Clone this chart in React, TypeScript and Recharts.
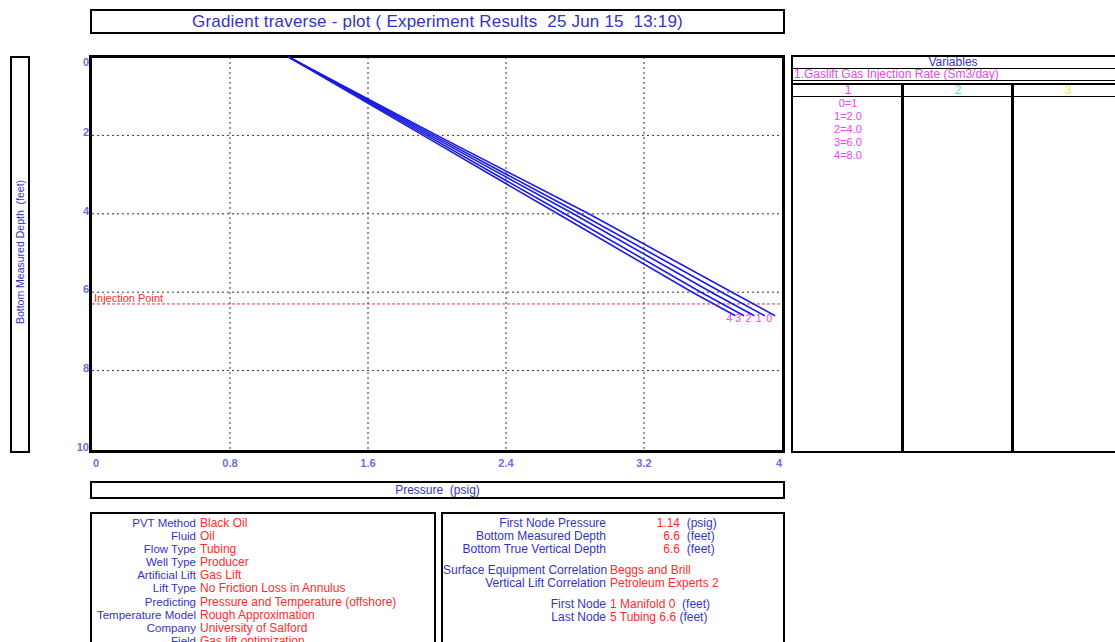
import { LineChart, Line, XAxis, YAxis, CartesianGrid, ReferenceLine, LabelList } from "recharts";

const FONT = '"Liberation Sans", Arial, sans-serif';
const BLUE = "#3434c4";
const RED = "#ff2b2b";
const MAGENTA = "#f044f0";
const TICK = "#6c6ce8";
const LINE = "#1c1ce0";

// depth (feet) vs pressure (psig) for each gas injection rate
const depths = [0, 2, 4, 6, 6.6];
const curveNames = ["0", "1", "2", "3", "4"];
const pressure0 = [1.14, 2.0, 2.88, 3.71, 3.96];
const pressure1 = [1.14, 1.98, 2.83, 3.65, 3.9];
const pressure2 = [1.14, 1.96, 2.79, 3.59, 3.84];
const pressure3 = [1.14, 1.94, 2.74, 3.53, 3.78];
const pressure4 = [1.14, 1.92, 2.7, 3.48, 3.73];
const curvePressures = [pressure0, pressure1, pressure2, pressure3, pressure4];

const xTicks = [0, 0.8, 1.6, 2.4, 3.2, 4];
const yTicks = [0, 2, 4, 6, 8, 10];
const xGrid = [0.8, 1.6, 2.4, 3.2];
const yGrid = [2, 4, 6, 8];
const injectionDepth = 6.3;

const varColumns = ["1", "2", "3"];
const varColumnColors = ["#f044f0", "#55dede", "#eeee55"];
const rateLabels = ["0=1", "1=2.0", "2=4.0", "3=6.0", "4=8.0"];

const wellLabels = ["PVT Method", "Fluid", "Flow Type", "Well Type", "Artificial Lift", "Lift Type", "Predicting", "Temperature Model", "Company", "Field"];
const wellValues = ["Black Oil", "Oil", "Tubing", "Producer", "Gas Lift", "No Friction Loss in Annulus", "Pressure and Temperature (offshore)", "Rough Approximation", "University of Salford", "Gas lift optimization"];

const resultLabels = ["First Node Pressure", "Bottom Measured Depth", "Bottom True Vertical Depth"];
const resultValues = ["1.14", "6.6", "6.6"];
const resultUnits = ["(psig)", "(feet)", "(feet)"];

const corrLabels = ["Surface Equipment Correlation", "Vertical Lift Correlation"];
const corrValues = ["Beggs and Brill", "Petroleum Experts 2"];

const nodeLabels = ["First Node", "Last Node"];
const nodeValues = ["1 Manifold 0 ", "5 Tubing 6.6"];

const curveData = curvePressures.map((ps) => ps.map((p, i) => ({ p, d: depths[i] })));

const XTick = (props: any) => {
  const { x, y, payload } = props;
  const v = payload.value;
  const anchor = v === 0 ? "start" : v === 4 ? "end" : "middle";
  return (
    <text x={x + (v === 0 ? 1 : 0)} y={y + 16} textAnchor={anchor} fill={TICK} fontSize={11} fontWeight="bold" fontFamily={FONT}>
      {v}
    </text>
  );
};

const YTick = (props: any) => {
  const { x, y, payload } = props;
  const v = payload.value;
  const dy = v === 0 ? 9 : v === 10 ? 2 : 1;
  return (
    <text x={x} y={y + dy} textAnchor="end" fill={TICK} fontSize={11} fontWeight="bold" fontFamily={FONT}>
      {v}
    </text>
  );
};

const endLabel = (name: string) => (props: any) => {
  const { x, y, index } = props;
  if (index !== depths.length - 1) return <g />;
  return (
    <text x={x - 6} y={y + 6} textAnchor="middle" fill={MAGENTA} fontSize={10.5} fontFamily={FONT}>
      {name}
    </text>
  );
};

const box = (left: number, top: number, width: number, height: number): React.CSSProperties => ({
  position: "absolute",
  left,
  top,
  width,
  height,
  border: "2px solid #000",
  boxSizing: "border-box",
  background: "#fff",
});

export default function App() {
  return (
    <div style={{ position: "absolute", left: 0, top: 0, width: 1115, height: 642, overflow: "hidden", background: "#fff", fontFamily: FONT }}>
      {/* title */}
      <div style={{ ...box(90, 9, 695, 25), color: BLUE, fontSize: 17, letterSpacing: 0.2, textAlign: "center", lineHeight: "21px", whiteSpace: "pre" }}>
        {"Gradient traverse - plot ( Experiment Results  25 Jun 15  13:19)"}
      </div>

      {/* y label */}
      <div style={box(10, 56, 20, 397)}>
        <div style={{ position: "absolute", left: 8, top: 194, transform: "translate(-50%, -50%) rotate(-90deg)", whiteSpace: "pre", color: BLUE, fontSize: 10.5 }}>
          {"Bottom Measured Depth  (feet)"}
        </div>
      </div>

      {/* plot frame */}
      <div style={{ ...box(89, 55, 696, 398), border: "3px solid #000" }} />

      <div style={{ position: "absolute", left: 0, top: 0 }}>
        <LineChart width={800} height={480} margin={{ top: 57, right: 18, left: 72, bottom: 11 }}>
          <CartesianGrid
            stroke="#333"
            strokeDasharray="2 3"
            strokeWidth={1}
            horizontalValues={yGrid}
            verticalValues={xGrid}
          />
          <XAxis
            type="number"
            dataKey="p"
            domain={[0, 4]}
            ticks={xTicks}
            height={20}
            axisLine={false}
            tickLine={false}
            tickSize={0}
            tick={<XTick />}
            allowDuplicatedCategory={false}
          />
          <YAxis
            type="number"
            dataKey="d"
            domain={[0, 10]}
            ticks={yTicks}
            reversed
            width={20}
            axisLine={false}
            tickLine={false}
            tickSize={0}
            tickMargin={3}
            tick={<YTick />}
          />
          <ReferenceLine
            y={injectionDepth}
            stroke={RED}
            strokeDasharray="3 2"
            label={{ value: "Injection Point", position: "insideLeft", fill: RED, fontSize: 11, fontFamily: FONT, dy: -6, offset: 2 }}
          />
          {curveData.map((data, i) => (
            <Line
              key={curveNames[i]}
              data={data}
              dataKey="d"
              stroke={LINE}
              strokeWidth={1.6}
              dot={false}
              isAnimationActive={false}
            >
              <LabelList dataKey="d" content={endLabel(curveNames[i])} />
            </Line>
          ))}
        </LineChart>
      </div>

      {/* pressure label */}
      <div style={{ ...box(90, 481, 695, 18), color: BLUE, fontSize: 12, textAlign: "center", lineHeight: "14px", whiteSpace: "pre" }}>
        {"Pressure  (psig)"}
      </div>

      {/* variables panel */}
      <div style={box(791, 55, 330, 398)}>
        <div style={{ position: "absolute", left: 0, right: 6, top: -1, height: 12, textAlign: "center", color: BLUE, fontSize: 12, lineHeight: "13px" }}>Variables</div>
        <div style={{ position: "absolute", left: 0, right: 0, top: 11, borderTop: "1px solid #000" }} />
        <div style={{ position: "absolute", left: 1, top: 11, color: MAGENTA, fontSize: 12, lineHeight: "13px", whiteSpace: "nowrap" }}>1.Gaslift Gas Injection Rate (Sm3/day)</div>
        <div style={{ position: "absolute", left: 0, right: 0, top: 23, borderTop: "1px solid #000" }} />
        <div style={{ position: "absolute", left: 0, right: 0, top: 26, borderTop: "2px solid #000" }} />
        <div style={{ position: "absolute", left: 0, right: 0, top: 39, borderTop: "1px solid #000" }} />
        <div style={{ position: "absolute", left: 108, top: 26, bottom: 0, borderLeft: "3px solid #000" }} />
        <div style={{ position: "absolute", left: 218, top: 26, bottom: 0, borderLeft: "3px solid #000" }} />
        {varColumns.map((c, i) => (
          <div key={c} style={{ position: "absolute", left: i * 110, width: 110, top: 27, textAlign: "center", fontSize: 12, lineHeight: "12px", color: varColumnColors[i] }}>
            {c}
          </div>
        ))}
        {rateLabels.map((r, i) => (
          <div key={r} style={{ position: "absolute", left: 0, width: 110, top: 40 + i * 13, textAlign: "center", fontSize: 11, lineHeight: "13px", color: MAGENTA }}>
            {r}
          </div>
        ))}
      </div>

      {/* well info panel */}
      <div style={{ ...box(90, 512, 346, 140), fontSize: 12 }}>
        <div style={{ position: "absolute", left: 0, top: 3 }}>
          {wellLabels.map((l, i) => (
            <div key={l} style={{ height: 13.1, lineHeight: "13px", whiteSpace: "nowrap" }}>
              <span style={{ display: "inline-block", width: 104, textAlign: "right", color: BLUE, fontSize: 11.5 }}>{l}</span>
              <span style={{ color: RED, marginLeft: 4 }}>{wellValues[i]}</span>
            </div>
          ))}
        </div>
      </div>

      {/* results panel */}
      <div style={{ ...box(441, 512, 344, 140), fontSize: 12 }}>
        <div style={{ position: "absolute", left: 0, top: 3 }}>
          {resultLabels.map((l, i) => (
            <div key={l} style={{ height: 13, lineHeight: "13px", whiteSpace: "pre" }}>
              <span style={{ display: "inline-block", width: 163, textAlign: "right", color: BLUE }}>{l}</span>
              <span style={{ display: "inline-block", width: 74, textAlign: "right", color: RED }}>{resultValues[i]}</span>
              <span style={{ color: BLUE }}>{"  " + resultUnits[i]}</span>
            </div>
          ))}
          <div style={{ height: 8 }} />
          {corrLabels.map((l, i) => (
            <div key={l} style={{ height: 13, lineHeight: "13px", whiteSpace: "pre" }}>
              <span style={{ display: "inline-block", width: 163, textAlign: "right", color: BLUE }}>{l}</span>
              <span style={{ color: RED, marginLeft: 4 }}>{corrValues[i]}</span>
            </div>
          ))}
          <div style={{ height: 8 }} />
          {nodeLabels.map((l, i) => (
            <div key={l} style={{ height: 13, lineHeight: "13px", whiteSpace: "pre" }}>
              <span style={{ display: "inline-block", width: 163, textAlign: "right", color: BLUE }}>{l}</span>
              <span style={{ color: RED, marginLeft: 4 }}>{nodeValues[i]}</span>
              <span style={{ color: BLUE }}>{" (feet)"}</span>
            </div>
          ))}
        </div>
      </div>
    </div>
  );
}
